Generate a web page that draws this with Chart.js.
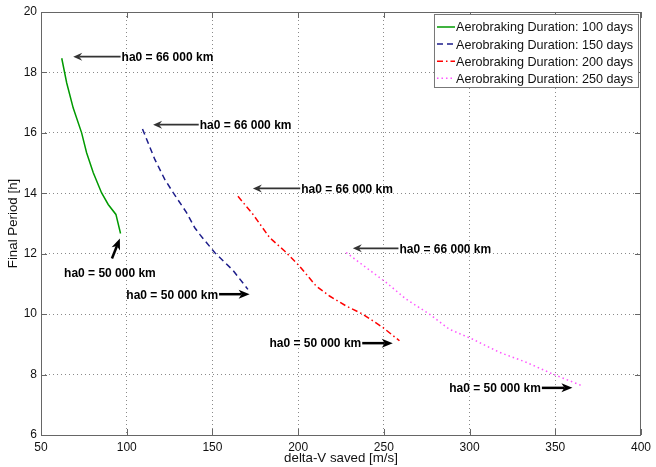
<!DOCTYPE html>
<html>
<head>
<meta charset="utf-8">
<script src="https://cdn.jsdelivr.net/npm/chart.js@4/dist/chart.umd.min.js"></script>
<style>
  html, body { margin: 0; padding: 0; background: #fff; }
  #wrap { width: 656px; height: 467px; }
</style>
</head>
<body>
<div id="wrap"><canvas id="grafico" width="656" height="467"></canvas></div>
<script>
// valores
const serieNomes = [
    'Aerobraking Duration: 100 days',
    'Aerobraking Duration: 150 days',
    'Aerobraking Duration: 200 days',
    'Aerobraking Duration: 250 days'
];

const dv100 = [62.1, 65.0, 68.8, 73.7, 76.6, 80.5, 85.3, 89.2, 93.7, 96.4];
const per100 = [18.47, 17.65, 16.82, 16.0, 15.34, 14.68, 14.02, 13.63, 13.3, 12.67];

const dv150 = [109.2, 116.4, 122.2, 127.1, 134.9, 139.7, 142.6, 151.3, 162.0, 170.7];
const per150 = [16.13, 15.12, 14.46, 14.02, 13.36, 12.86, 12.64, 12.04, 11.45, 10.82];

const dv200 = [164.9, 173.7, 183.4, 192.1, 200.8, 210.5, 218.3, 228.0, 237.7, 249.4, 259.1];
const per200 = [13.9, 13.3, 12.53, 12.09, 11.59, 10.93, 10.6, 10.27, 10.0, 9.56, 9.12];

const dv250 = [228.0, 239.7, 251.3, 262.9, 276.6, 288.2, 301.8, 317.3, 332.9, 348.4, 366.0];
const per250 = [12.04, 11.54, 11.05, 10.5, 10.0, 9.5, 9.17, 8.74, 8.41, 8.02, 7.62];

const ticksX = [50, 100, 150, 200, 250, 300, 350, 400];
const ticksY = [6, 8, 10, 12, 14, 16, 18, 20];

// anotações (coordenadas em unidades dos eixos)
const notaTexto = [
    'ha0 = 66 000 km', 'ha0 = 66 000 km', 'ha0 = 66 000 km', 'ha0 = 66 000 km',
    'ha0 = 50 000 km', 'ha0 = 50 000 km', 'ha0 = 50 000 km', 'ha0 = 50 000 km'
];
const notaX = [97.0, 142.6, 201.8, 259.1, 90.2, 153.3, 236.8, 341.6];
const notaY = [18.52, 16.27, 14.16, 12.18, 11.38, 10.66, 9.04, 7.56];
const notaAlinha = ['left', 'left', 'left', 'left', 'center', 'right', 'right', 'right'];
const setaDeX = [97.0, 142.6, 201.8, 259.1, 91.4, 153.3, 236.8, 341.6];
const setaDeY = [18.52, 16.27, 14.16, 12.18, 11.84, 10.66, 9.04, 7.56];
const setaParaX = [68.8, 115.4, 173.6, 231.9, 96.0, 171.7, 255.2, 360.0];
const setaParaY = [18.52, 16.27, 14.16, 12.18, 12.5, 10.66, 9.04, 7.56];
const setaForte = [false, false, false, false, true, true, true, true];

const cores = {
    verde: '#009a00',
    azul: '#1c1c8a',
    vermelho: '#ff0000',
    magenta: '#ff55ff'
};
const FONTE = "'Liberation Sans', Arial, sans-serif";

function pares(xs, ys) {
    return xs.map((x, i) => ({ x: x, y: ys[i] }));
}

function desenharSeta(ctx, x1, y1, x2, y2, forte) {
    const ang = Math.atan2(y2 - y1, x2 - x1);
    const comp = forte ? 11 : 9;
    const larg = forte ? 4.5 : 4;
    const cor = forte ? '#000' : '#333';
    ctx.save();
    ctx.strokeStyle = cor;
    ctx.fillStyle = cor;
    ctx.lineWidth = forte ? 2.5 : 1.8;
    ctx.beginPath();
    ctx.moveTo(x1, y1);
    ctx.lineTo(x2 - Math.cos(ang) * (comp - 3), y2 - Math.sin(ang) * (comp - 3));
    ctx.stroke();
    ctx.translate(x2, y2);
    ctx.rotate(ang);
    ctx.beginPath();
    ctx.moveTo(0, 0);
    ctx.lineTo(-comp, -larg);
    ctx.lineTo(-comp + 3, 0);
    ctx.lineTo(-comp, larg);
    ctx.closePath();
    ctx.fill();
    ctx.restore();
}

const pluginAnotacoes = {
    id: 'anotacoes',
    afterDatasetsDraw(chart) {
        const ctx = chart.ctx;
        const sx = chart.scales.x;
        const sy = chart.scales.y;
        notaTexto.forEach((txt, i) => {
            desenharSeta(ctx,
                sx.getPixelForValue(setaDeX[i]) + (notaAlinha[i] === 'left' ? -1 : notaAlinha[i] === 'right' ? 1 : 0),
                sy.getPixelForValue(setaDeY[i]),
                sx.getPixelForValue(setaParaX[i]),
                sy.getPixelForValue(setaParaY[i]),
                setaForte[i]);
            ctx.save();
            ctx.font = 'bold 12px ' + FONTE;
            ctx.fillStyle = '#000';
            ctx.textAlign = notaAlinha[i];
            ctx.textBaseline = 'middle';
            ctx.fillText(txt, sx.getPixelForValue(notaX[i]), sy.getPixelForValue(notaY[i]) + 1);
            ctx.restore();
        });
    },
    afterDraw(chart) {
        const ctx = chart.ctx;
        const a = chart.chartArea;
        const sx = chart.scales.x;
        const sy = chart.scales.y;
        ctx.save();
        // caixa dos eixos e marcas internas
        ctx.strokeStyle = '#666';
        ctx.lineWidth = 1;
        ctx.strokeRect(a.left + 0.5, a.top + 0.5, a.right - a.left - 1, a.bottom - a.top);
        ctx.beginPath();
        ticksX.forEach(v => {
            const p = Math.round(sx.getPixelForValue(v)) + 0.5;
            ctx.moveTo(p, a.bottom); ctx.lineTo(p, a.bottom - 6);
            ctx.moveTo(p, a.top); ctx.lineTo(p, a.top + 6);
        });
        ticksY.forEach(v => {
            const p = Math.round(sy.getPixelForValue(v)) + 0.5;
            ctx.moveTo(a.left, p); ctx.lineTo(a.left + 6, p);
            ctx.moveTo(a.right, p); ctx.lineTo(a.right - 6, p);
        });
        ctx.stroke();

        // legenda
        const lx = a.right - 207, ly = a.top + 2, lw = 205, lh = 74;
        ctx.fillStyle = '#fff';
        ctx.fillRect(lx, ly, lw, lh);
        ctx.strokeStyle = '#777';
        ctx.strokeRect(lx + 0.5, ly + 0.5, lw - 1, lh - 1);
        ctx.font = '12.6px ' + FONTE;
        ctx.textBaseline = 'middle';
        ctx.textAlign = 'left';
        chart.data.datasets.forEach((ds, i) => {
            const y = ly + 13 + i * 17.1;
            ctx.save();
            ctx.strokeStyle = ds.borderColor;
            ctx.lineWidth = ds.borderWidth;
            ctx.setLineDash(ds.borderDash || []);
            ctx.beginPath();
            ctx.moveTo(lx + 3, y);
            ctx.lineTo(lx + 21, y);
            ctx.stroke();
            ctx.restore();
            ctx.fillStyle = '#111';
            ctx.fillText(ds.label, lx + 22, y + 1);
        });
        ctx.restore();
    }
};

const ctx = document.getElementById('grafico');

new Chart(ctx, {
    type: 'line',
    data: {
        datasets: [
            {
                label: serieNomes[0],
                data: pares(dv100, per100),
                borderColor: cores.verde,
                borderWidth: 1.5
            },
            {
                label: serieNomes[1],
                data: pares(dv150, per150),
                borderColor: cores.azul,
                borderWidth: 1.5,
                borderDash: [6, 4]
            },
            {
                label: serieNomes[2],
                data: pares(dv200, per200),
                borderColor: cores.vermelho,
                borderWidth: 1.5,
                borderDash: [6, 3, 1.5, 3]
            },
            {
                label: serieNomes[3],
                data: pares(dv250, per250),
                borderColor: cores.magenta,
                borderWidth: 1.5,
                borderDash: [1.5, 3]
            }
        ]
    },
    options: {
        responsive: false,
        animation: false,
        devicePixelRatio: 1,
        layout: { padding: { top: 12, right: 14, left: 0, bottom: 0 } },
        elements: {
            point: { radius: 0, hoverRadius: 0 },
            line: { tension: 0, fill: false }
        },
        plugins: {
            legend: { display: false },
            tooltip: { enabled: false }
        },
        scales: {
            x: {
                type: 'linear',
                min: 50,
                max: 400,
                afterFit: (s) => { s.height = 32; },
                afterBuildTicks: (s) => { s.ticks = ticksX.map(v => ({ value: v })); },
                grid: {
                    color: '#8a8a8a',
                    lineWidth: 1,
                    drawTicks: false
                },
                border: { display: false, dash: [1, 3] },
                ticks: {
                    color: '#111',
                    padding: 5,
                    maxRotation: 0,
                    font: { family: FONTE, size: 12 }
                },
                title: {
                    display: true,
                    text: 'delta-V saved [m/s]',
                    color: '#111',
                    padding: { top: 0, bottom: 1 },
                    font: { family: FONTE, size: 13.3 }
                }
            },
            y: {
                type: 'linear',
                min: 6,
                max: 20,
                afterFit: (s) => { s.width = 41; },
                afterBuildTicks: (s) => { s.ticks = ticksY.map(v => ({ value: v })); },
                grid: {
                    color: '#8a8a8a',
                    lineWidth: 1,
                    drawTicks: false
                },
                border: { display: false, dash: [1, 3] },
                ticks: {
                    color: '#111',
                    padding: 4,
                    font: { family: FONTE, size: 12 }
                },
                title: {
                    display: true,
                    text: 'Final Period [h]',
                    color: '#111',
                    padding: { top: 5, bottom: 0 },
                    font: { family: FONTE, size: 13.3 }
                }
            }
        }
    },
    plugins: [pluginAnotacoes]
});
</script>
</body>
</html>
